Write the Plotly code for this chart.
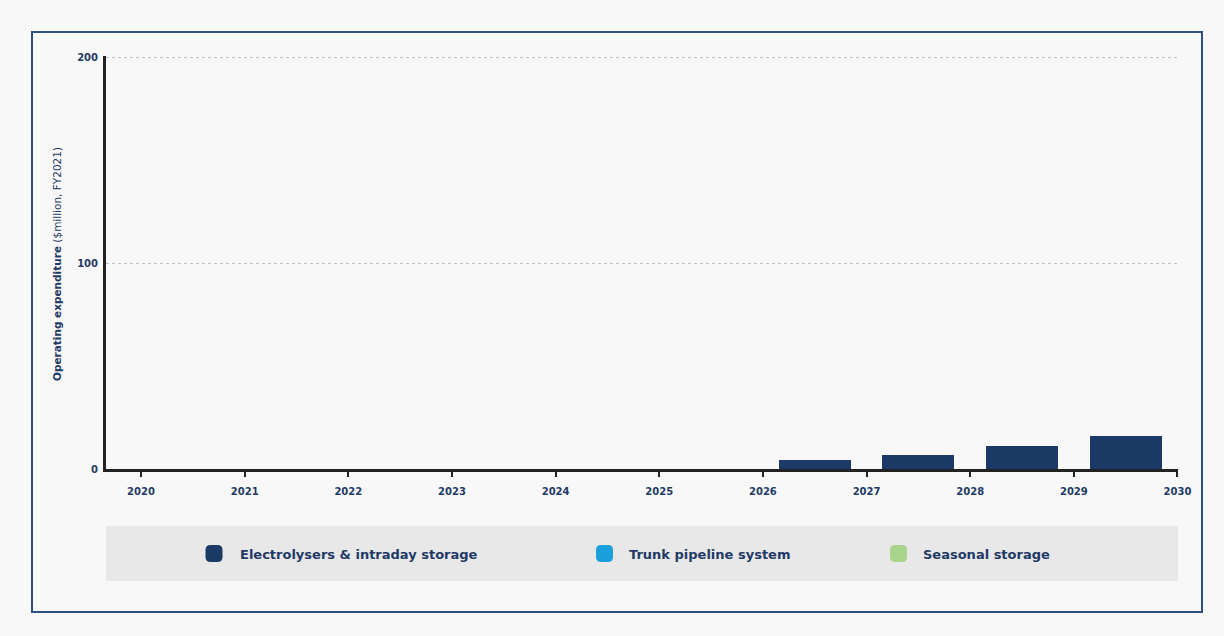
import plotly.graph_objects as go

# Operating expenditure by component, $million (FY2021)
years = [2020, 2021, 2022, 2023, 2024, 2025, 2026, 2027, 2028, 2029]
tick_years = [2020, 2021, 2022, 2023, 2024, 2025, 2026, 2027, 2028, 2029, 2030]
series_names = ["Electrolysers & intraday storage", "Trunk pipeline system", "Seasonal storage"]
electrolysers = [0, 0, 0, 0, 0, 0, 4.2, 6.8, 11.3, 16.2]
trunk_pipeline = [0, 0, 0, 0, 0, 0, 0, 0, 0, 0]
seasonal_storage = [0, 0, 0, 0, 0, 0, 0, 0, 0, 0]
series_colors = ["#1c3a66", "#1ca0dc", "#a8d48c"]

W, H = 1224, 636
ML, MR, MT, MB = 106, 46, 56, 167
PW, PH = W - ML - MR, H - MT - MB
NAVY = "#1f3a66"
FONT = "DejaVu Sans"


def px(x):
    return (x - ML) / PW


def py(y):
    return (H - MB - y) / PH


fig = go.Figure()
for name, vals, col in zip(series_names, [electrolysers, trunk_pipeline, seasonal_storage], series_colors):
    fig.add_trace(go.Bar(
        x=[y + 0.5 for y in years], y=vals, name=name, width=0.695,
        marker=dict(color=col, line=dict(width=0)), showlegend=False,
    ))

shapes = []
annotations = []

# outer frame
shapes.append(dict(type="rect", xref="paper", yref="paper",
                   x0=px(32), x1=px(1202), y0=py(612), y1=py(32),
                   line=dict(color="#2f5082", width=2), fillcolor="rgba(0,0,0,0)", layer="below"))
# legend band
shapes.append(dict(type="rect", xref="paper", yref="paper",
                   x0=0, x1=1, y0=py(581), y1=py(526),
                   line=dict(width=0), fillcolor="#e8e8e8", layer="below"))


def rounded_square(cx, cy, s, r):
    x0, x1, y0, y1 = cx - s / 2, cx + s / 2, cy - s / 2, cy + s / 2
    pts = [
        f"M {px(x0 + r)} {py(y0)}",
        f"L {px(x1 - r)} {py(y0)}",
        f"Q {px(x1)} {py(y0)} {px(x1)} {py(y0 + r)}",
        f"L {px(x1)} {py(y1 - r)}",
        f"Q {px(x1)} {py(y1)} {px(x1 - r)} {py(y1)}",
        f"L {px(x0 + r)} {py(y1)}",
        f"Q {px(x0)} {py(y1)} {px(x0)} {py(y1 - r)}",
        f"L {px(x0)} {py(y0 + r)}",
        f"Q {px(x0)} {py(y0)} {px(x0 + r)} {py(y0)}",
        "Z",
    ]
    return " ".join(pts)


legend_marker_x = [214, 604.5, 898.5]
legend_text_x = [238, 627, 921]
for name, col, mx, tx in zip(series_names, series_colors, legend_marker_x, legend_text_x):
    shapes.append(dict(type="path", xref="paper", yref="paper",
                       path=rounded_square(mx, 553.5, 17, 5),
                       fillcolor=col, line=dict(width=0)))
    annotations.append(dict(xref="paper", yref="paper", x=px(tx), y=py(554),
                            xanchor="left", yanchor="middle", showarrow=False,
                            text=f"<b>{name}</b>",
                            font=dict(family=FONT, size=13, color=NAVY)))

# y-axis title
annotations.append(dict(xref="paper", yref="paper", x=px(57), y=py(264),
                        xanchor="center", yanchor="middle", showarrow=False, textangle=-90,
                        text="<b>Operating expenditure</b> ($million, FY2021)",
                        font=dict(family=FONT, size=10.5, color=NAVY)))

fig.update_layout(
    width=W, height=H,
    margin=dict(l=ML, r=MR, t=MT, b=MB),
    paper_bgcolor="#f8f8f8", plot_bgcolor="#f8f8f8",
    barmode="stack", bargap=0,
    shapes=shapes, annotations=annotations,
    font=dict(family=FONT, color=NAVY),
    xaxis=dict(
        type="linear", range=[2019.662, 2030.005],
        tickvals=tick_years, ticktext=[str(y) for y in tick_years],
        ticks="outside", ticklen=5, tickwidth=2, tickcolor="#222",
        showline=True, linecolor="#222", linewidth=3,
        showgrid=False, zeroline=False,
        tickfont=dict(family=FONT, size=10, color=NAVY, weight="bold"),
        ticklabelstandoff=6,
    ),
    yaxis=dict(
        range=[0, 200.6], tickvals=[0, 100, 200],
        showline=True, linecolor="#222", linewidth=3,
        showgrid=True, gridcolor="#c4c4c4", griddash="dot", gridwidth=1,
        zeroline=False, ticks="",
        tickfont=dict(family=FONT, size=10, color=NAVY, weight="bold"),
        ticklabelstandoff=3,
    ),
)

fig.write_html("out.html")
